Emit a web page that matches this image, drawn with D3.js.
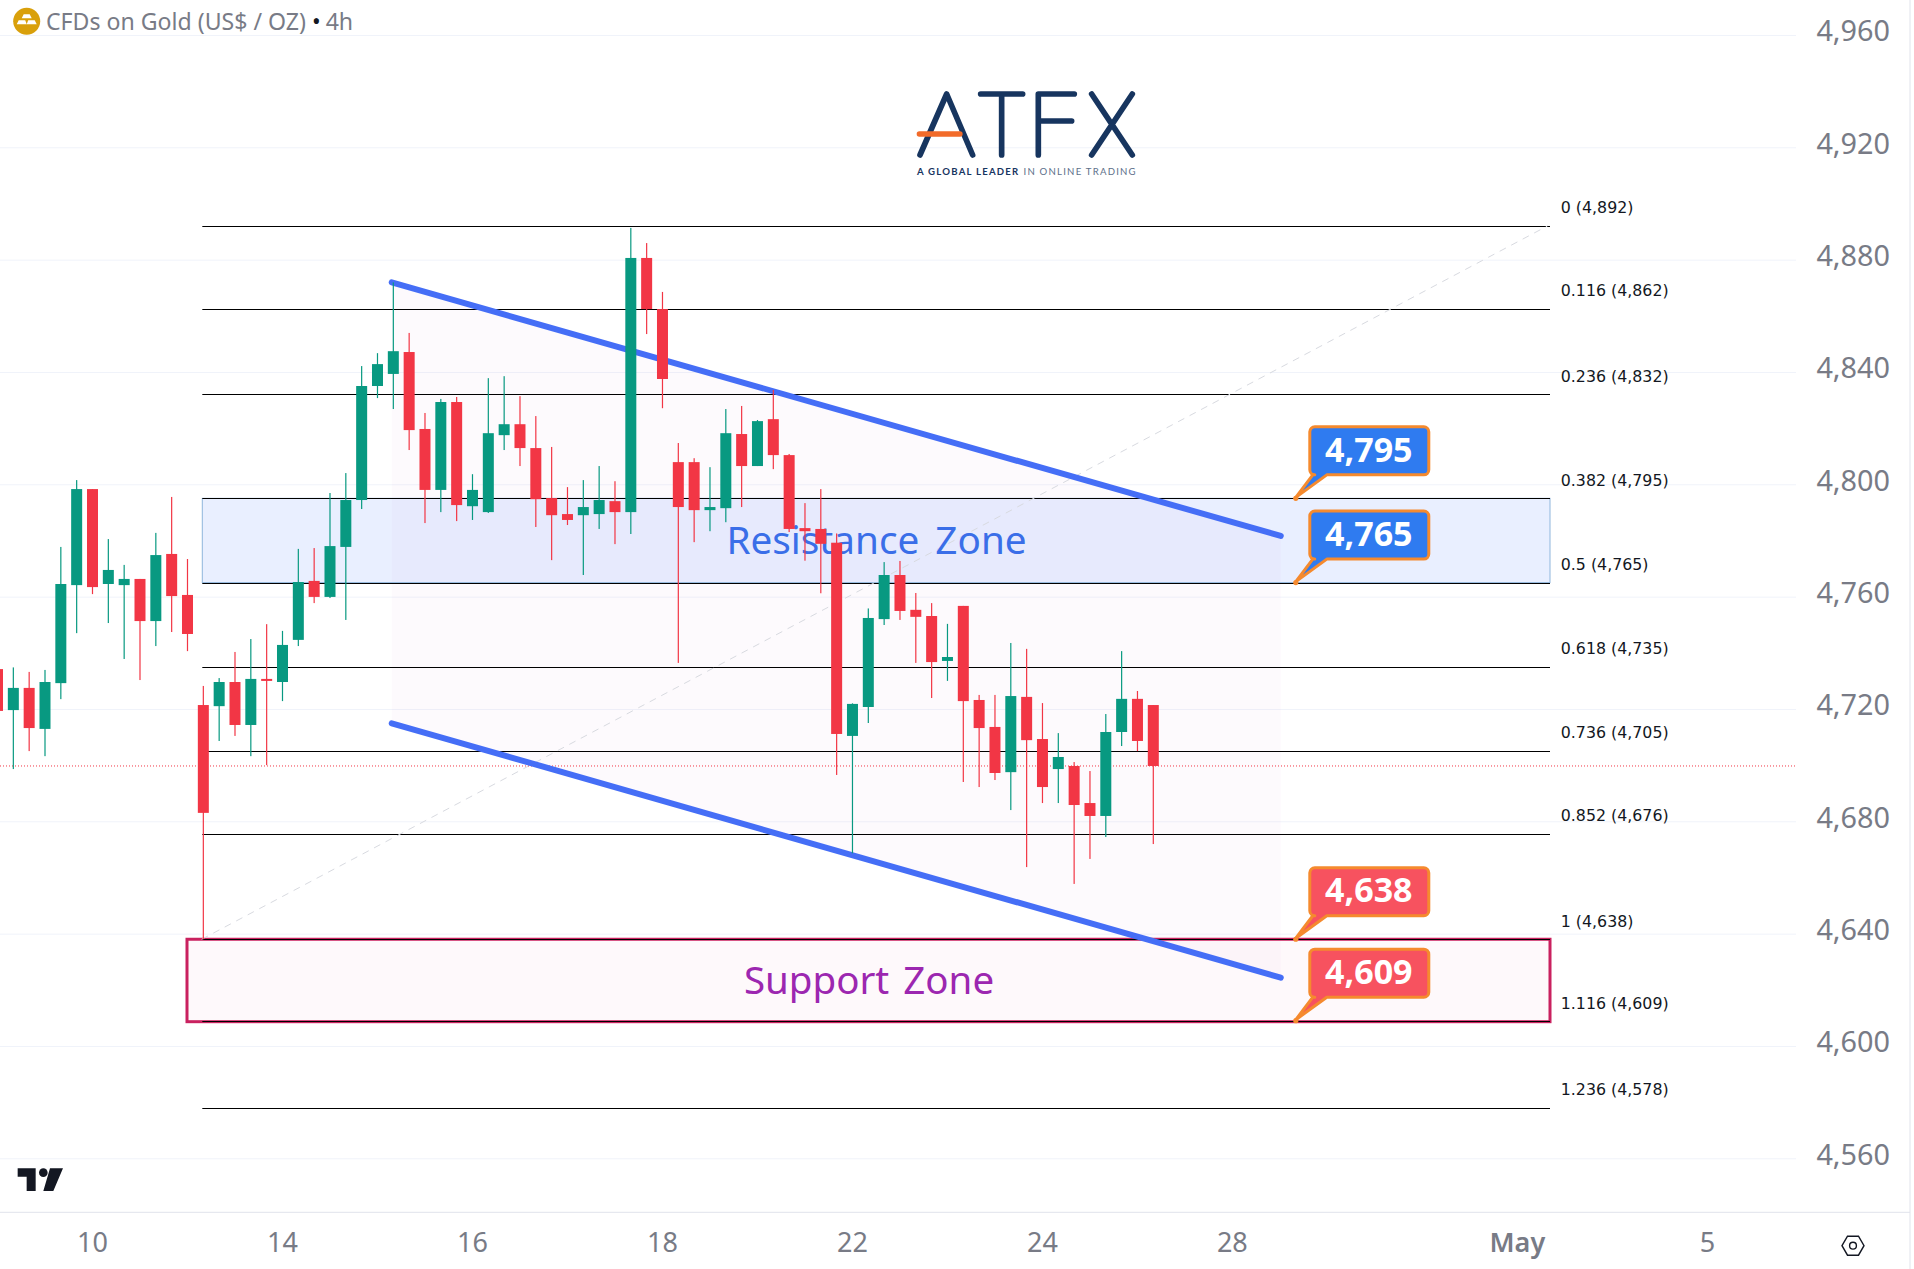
<!DOCTYPE html>
<html>
<head>
<meta charset="utf-8">
<title>CFDs on Gold</title>
<script src="https://cdn.jsdelivr.net/npm/d3@7/dist/d3.min.js"></script>
<style>
  html, body { margin: 0; padding: 0; background: #fff; overflow: hidden; }
  svg { display: block; }
  text { font-family: "Noto Sans", sans-serif; }
</style>
</head>
<body>
<svg id="chart" width="1914" height="1269"></svg>
<script>
// 4h bars
var opens = [4734.2,4719.6,4727.5,4712.9,4729.2,4764.1,4798.3,4764.5,4764.1,4766.3,4751.3,4775.2,4760.6,
  4721.4,4721.0,4729.6,4714.3,4730.7,4729.6,4744.6,4765.6,4759.9,4777.7,4794.4,4835.0,4839.3,4847.1,4819.7,
  4798.0,4829.3,4792.2,4790.1,4817.5,4821.4,4812.9,4795.1,4789.4,4789.0,4789.4,4794.0,4790.1,4880.6,4862.4,
  4807.9,4807.9,4790.8,4791.5,4817.9,4806.5,4823.2,4810.4,4784.4,4784.1,4779.2,4710.4,4720.7,4752.0,4767.7,
  4755.3,4753.1,4737.1,4756.7,4723.2,4713.6,4697.5,4724.3,4709.3,4698.6,4699.7,4686.5,4681.9,4711.8,4723.6,4721.4];
var highs = [4735.0,4734.8,4733.2,4733.9,4777.7,4801.5,4798.3,4780.5,4771.3,4766.3,4782.7,4795.5,4773.4,
  4728.2,4731.0,4740.3,4744.9,4750.2,4747.8,4777.0,4777.3,4796.9,4804.0,4842.1,4846.7,4871.9,4853.9,4825.4,
  4830.4,4831.1,4803.6,4837.8,4838.5,4831.4,4824.3,4813.3,4799.0,4801.5,4806.5,4801.1,4891.3,4885.9,4868.5,
  4814.7,4809.3,4806.1,4826.8,4827.9,4822.9,4833.6,4810.8,4793.3,4798.3,4782.5,4722.0,4755.8,4772.3,4772.7,
  4761.3,4757.7,4750.3,4756.7,4725.0,4725.0,4743.5,4741.4,4722.1,4711.4,4701.1,4697.9,4718.2,4740.6,4726.4,4721.4];
var lows = [4716.0,4698.6,4705.0,4703.2,4723.5,4747.0,4760.9,4750.6,4737.8,4730.3,4742.4,4747.4,4740.6,
  4638.0,4708.6,4710.4,4703.2,4700.0,4722.8,4742.4,4757.7,4759.5,4751.7,4791.2,4830.7,4826.8,4812.2,4786.2,
  4790.1,4786.9,4787.3,4789.8,4812.2,4806.5,4784.8,4773.0,4785.5,4767.7,4784.1,4778.7,4782.3,4853.5,4827.1,
  4736.4,4779.4,4783.3,4786.5,4791.9,4806.5,4805.4,4783.0,4772.8,4761.2,4696.5,4668.6,4715.0,4749.9,4751.7,
  4736.4,4723.9,4730.0,4694.0,4692.2,4694.7,4684.0,4663.7,4686.5,4686.5,4657.7,4666.6,4674.4,4706.8,4705.0,4671.9];
var closes = [4719.3,4727.5,4713.2,4729.6,4764.5,4798.3,4763.4,4769.5,4766.3,4751.3,4774.8,4760.2,4746.7,
  4683.0,4729.6,4714.3,4730.7,4730.0,4742.8,4765.2,4759.9,4778.0,4794.4,4835.0,4842.8,4847.4,4819.3,4798.0,
  4829.3,4792.6,4798.0,4818.2,4821.4,4812.9,4794.7,4789.0,4787.3,4791.9,4794.4,4790.1,4880.6,4862.4,4837.5,
  4791.9,4790.8,4791.9,4818.2,4806.5,4822.5,4810.4,4784.1,4783.3,4778.8,4711.1,4721.8,4752.4,4767.7,4754.9,
  4752.8,4736.7,4738.5,4722.8,4713.2,4697.2,4724.6,4708.9,4692.2,4702.9,4685.8,4681.9,4711.8,4723.6,4708.6,4699.7];

var priceTicks = [4960,4920,4880,4840,4800,4760,4720,4680,4640,4600,4560];
var timeTickBars = [6,18,30,42,54,66,78,96,108];
var timeTickLabels = ['10','14','16','18','22','24','28','May','5'];

var fibRatios = ['0','0.116','0.236','0.382','0.5','0.618','0.736','0.852','1','1.116','1.236'];
var fibPrices = [4892,4862.4,4832.1,4795,4765,4735.1,4705.1,4675.6,4638,4608.8,4578];

var channelBars = [24.9,81.05];
var channelUpper = [4871.9,4781.6];
var channelLower = [4714.9,4624.3];
var diagonalBars = [12.9,97.9];
var diagonalPrices = [4638,4892];
var lastPrice = 4699.7;

var resistanceZone = [4795,4765];
var supportZone = [4638,4609];
var calloutPrices = [4795,4765,4638,4609];

var GREEN = '#089981', RED = '#f23645', AXIS_TEXT = '#787b86';
var paneRight = 1796, fibLeft = 202.3, fibRight = 1550;

var svg = d3.select('#chart');

var x = d3.scaleLinear().domain([0, 73]).range([-2.5, 1153.3]);
var y = d3.scaleLinear().domain([4560, 4800]).range([1158.3, 484.3]);
var money = d3.format(',.0f');

// grid
var grid = svg.append('g')
  .attr('transform', 'translate(' + paneRight + ',0)')
  .call(d3.axisLeft(y).tickValues(priceTicks).tickSize(paneRight).tickFormat(''));
grid.select('.domain').remove();
grid.selectAll('line').attr('stroke', '#f0f3fa').attr('stroke-width', 1);

// channel fill sits behind the zones
var channelArea = d3.area()
  .x(function(d) { return x(d.bar); })
  .y0(function(d) { return y(d.low); })
  .y1(function(d) { return y(d.up); });
var channelRows = channelBars.map(function(b, i) {
  return {bar: b, up: channelUpper[i], low: channelLower[i]};
});
svg.append('path').attr('d', channelArea(channelRows)).attr('fill', '#9c27b0').attr('fill-opacity', 0.022);

// zones
svg.append('rect')
  .attr('x', fibLeft).attr('width', fibRight - fibLeft)
  .attr('y', y(resistanceZone[0])).attr('height', y(resistanceZone[1]) - y(resistanceZone[0]))
  .attr('fill', '#2962ff').attr('fill-opacity', 0.1)
  .attr('stroke', '#8fb6dc').attr('stroke-width', 1);
svg.append('rect')
  .attr('x', 187).attr('width', 1550 - 187)
  .attr('y', y(supportZone[0])).attr('height', y(supportZone[1]) - y(supportZone[0]) + 1)
  .attr('fill', '#e91e63').attr('fill-opacity', 0.028)
  .attr('stroke', '#c9215f').attr('stroke-width', 3);

// fib levels
var snap = function snap(d) { return Math.round(y(d)) + 0.5; };
svg.append('g').selectAll('line').data(fibPrices).enter().append('line')
  .attr('x1', fibLeft).attr('x2', fibRight)
  .attr('y1', snap).attr('y2', snap)
  .attr('stroke', '#000').attr('stroke-width', 1);
svg.append('g').selectAll('text').data(fibPrices).enter().append('text')
  .attr('x', 1560.8)
  .attr('y', function(d) { return y(d) - 12.6; })
  .attr('font-size', 15.8)
  .style('font-family', '"DejaVu Sans", sans-serif')
  .attr('fill', '#131722')
  .text(function(d, i) { return fibRatios[i] + ' (' + money(d) + ')'; });

// fib trend line
svg.append('line')
  .attr('x1', x(diagonalBars[0])).attr('y1', y(diagonalPrices[0]))
  .attr('x2', x(diagonalBars[1])).attr('y2', y(diagonalPrices[1]))
  .attr('stroke', '#d8dae0').attr('stroke-width', 1).attr('stroke-dasharray', '7 6');

// last price
svg.append('line')
  .attr('x1', 0).attr('x2', paneRight)
  .attr('y1', y(lastPrice)).attr('y2', y(lastPrice))
  .attr('stroke', RED).attr('stroke-width', 1).attr('stroke-dasharray', '1 2');

// channel lines
[channelUpper, channelLower].forEach(function(prices) {
  svg.append('line')
    .attr('x1', x(channelBars[0])).attr('y1', y(prices[0]))
    .attr('x2', x(channelBars[1])).attr('y2', y(prices[1]))
    .attr('stroke', '#456ef6').attr('stroke-width', 6).attr('stroke-linecap', 'round');
});

// zone names
svg.append('text').attr('x', 876.5).attr('y', 553.5).attr('text-anchor', 'middle')
  .attr('font-size', 38.7).attr('fill', '#3a6ee8').style('word-spacing', '6px').text('Resistance Zone');
svg.append('text').attr('x', 869).attr('y', 993.5).attr('text-anchor', 'middle')
  .attr('font-size', 38.5).attr('fill', '#9c27b0').style('word-spacing', '4px').text('Support Zone');

// candles
var candles = svg.append('g').selectAll('g').data(opens).enter().append('g')
  .attr('fill', function(d, i) { return closes[i] >= d ? GREEN : RED; })
  .attr('stroke', 'none');
candles.append('rect')
  .attr('x', function(d, i) { return x(i) - 0.6; })
  .attr('width', 1.2)
  .attr('y', function(d, i) { return y(highs[i]); })
  .attr('height', function(d, i) { return y(lows[i]) - y(highs[i]); });
candles.append('rect')
  .attr('x', function(d, i) { return x(i) - 5.5; })
  .attr('width', 11)
  .attr('y', function(d, i) { return y(Math.max(d, closes[i])); })
  .attr('height', function(d, i) { return Math.max(2, Math.abs(y(d) - y(closes[i]))); });

// price callouts, box offsets measured from the anchor point
var callouts = svg.append('g').selectAll('g').data(calloutPrices).enter().append('g')
  .attr('transform', function(d) { return 'translate(' + x(82) + ',' + y(d) + ')'; });
callouts.append('path')
  .attr('d', 'M14,-66.5 a5,5 0 0 1 5,-5 h109 a5,5 0 0 1 5,5 v38 a5,5 0 0 1 -5,5 h-97 L0,-1 L17,-23.5 h2 a5,5 0 0 1 -5,-5 Z')
  .attr('fill', function(d, i) { return i < 2 ? '#2f7bf0' : '#f7525f'; })
  .attr('stroke', '#f58a2e').attr('stroke-width', 3).attr('stroke-linejoin', 'round');
callouts.append('circle').attr('r', 2.6).attr('fill', '#f58a2e');
callouts.append('text')
  .attr('x', 73).attr('y', -36.8)
  .attr('text-anchor', 'middle')
  .attr('font-size', 34).attr('font-weight', 700).attr('fill', '#fff')
  .text(function(d) { return money(d); });

// axes
var priceAxis = svg.append('g')
  .attr('transform', 'translate(' + paneRight + ',0)')
  .call(d3.axisRight(y).tickValues(priceTicks).tickSize(0).tickFormat(d3.format(',')));
priceAxis.select('.domain').remove();
priceAxis.selectAll('text')
  .attr('x', 94).attr('dy', '0.2em').attr('text-anchor', 'end')
  .attr('font-size', 28.8).attr('fill', AXIS_TEXT)
  .style('font-family', '"Noto Sans", sans-serif');

var timeAxis = svg.append('g')
  .attr('transform', 'translate(-0.6,1212.3)')
  .call(d3.axisBottom(x).tickValues(timeTickBars).tickSize(0).tickFormat(function(d, i) { return timeTickLabels[i]; }));
timeAxis.select('.domain').remove();
timeAxis.selectAll('text')
  .attr('y', 29.5).attr('dy', '0.36em')
  .attr('font-size', 27).attr('fill', AXIS_TEXT)
  .attr('font-weight', function(d, i) { return timeTickLabels[i] === 'May' ? 600 : 400; })
  .style('font-family', '"Noto Sans", sans-serif');

svg.append('line').attr('x1', 0).attr('x2', 1910).attr('y1', 1212.3).attr('y2', 1212.3).attr('stroke', '#e0e3eb');
svg.append('line').attr('x1', 1910).attr('x2', 1910).attr('y1', 0).attr('y2', 1269).attr('stroke', '#e0e3eb');

// header
var coin = svg.append('g').attr('transform', 'translate(26.7,21.3)');
coin.append('circle').attr('r', 13.5).attr('fill', '#d9a00b');
coin.append('path').attr('d', 'M-3,-7 h6 l2,4 h-10 Z M-8,-1 h6.5 l1.5,4 h-10 Z M1.5,-1 h6.5 l2,4 h-10 Z').attr('fill', '#fff');
var title = svg.append('text').attr('x', 46).attr('y', 30).attr('font-size', 23.1).attr('fill', AXIS_TEXT);
title.append('tspan').text('CFDs on Gold (US$ / OZ)');
title.append('tspan').attr('fill', '#131722').attr('dx', 6).text('•');
title.append('tspan').attr('dx', 5).text('4h');

// ATFX logo
var logo = svg.append('g').attr('transform', 'translate(880,70) scale(0.3333)');
var logoStrokes = ['M120,255 L200,72 L278,255', 'M302,72 H428 M365,72 V255', 'M475,255 V72 H583 M475,153 H575', 'M635,72 L757,255 M757,72 L635,255'];
logo.selectAll('path').data(logoStrokes).enter().append('path')
  .attr('d', function(d) { return d; })
  .attr('fill', 'none').attr('stroke', '#17355f').attr('stroke-width', 17)
  .attr('stroke-linecap', 'round').attr('stroke-linejoin', 'round');
logo.append('path').attr('d', 'M118,192 H240').attr('stroke', '#f26b2a').attr('stroke-width', 16).attr('stroke-linecap', 'round');
var tagline = svg.append('text').attr('x', 917).attr('y', 174.5).attr('font-size', 9.6)
  .style('font-family', 'Lato, sans-serif').style('letter-spacing', '1.22px');
tagline.append('tspan').attr('fill', '#17355f').attr('font-weight', 700).text('A GLOBAL LEADER');
tagline.append('tspan').attr('fill', '#5d6f8a').attr('dx', 4).text('IN ONLINE TRADING');

// TradingView mark
var tv = svg.append('g').attr('transform', 'translate(0,1150) scale(0.3333)').attr('fill', '#131722');
tv.append('path').attr('d', 'M53,55 H107 V123 H80 V80 H53 Z M150,55 H189 L160,123 H130 Z');
tv.append('circle').attr('cx', 130).attr('cy', 68).attr('r', 13);

// settings hexagon
var gear = svg.append('g').attr('transform', 'translate(1853,1245.7)').attr('fill', 'none').attr('stroke', '#131722').attr('stroke-width', 1.4);
gear.append('path').attr('d', 'M-11,0 L-5.5,-9.5 H5.5 L11,0 L5.5,9.5 H-5.5 Z');
gear.append('circle').attr('r', 3.4);
</script>
</body>
</html>
